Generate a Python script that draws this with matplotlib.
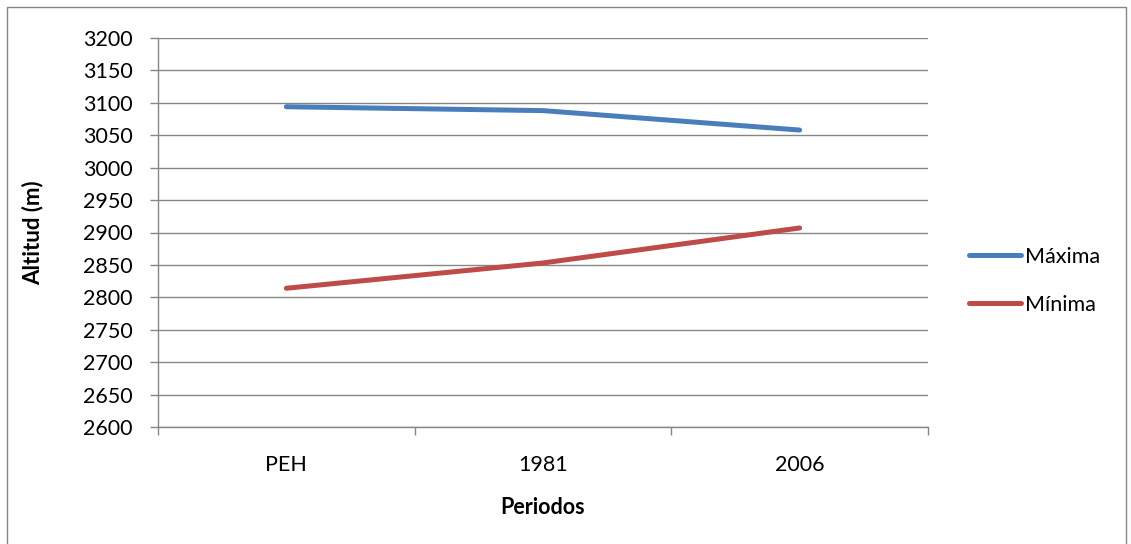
import matplotlib
matplotlib.use("Agg")
import matplotlib.pyplot as plt
from matplotlib.patches import Rectangle
import numpy as np

periodos = ["PEH", "1981", "2006"]
maxima = [3094, 3088, 3058]
minima = [2814, 2853, 2907]

azul = "#4A7EBB"
rojo = "#BE4B48"
gris = "#868686"

plt.rcParams['font.family'] = ['Lato', 'DejaVu Sans']

W, H = 1131, 544
fig = plt.figure(figsize=(W / 100, H / 100), dpi=100)
ax = fig.add_axes([158 / W, 1 - 427 / H, (928 - 158) / W, (427 - 38) / H])

x = np.arange(len(periodos)) + 0.5
ax.plot(x, maxima, color=azul, lw=3.6, solid_capstyle='round', label="Máxima")
ax.plot(x, minima, color=rojo, lw=3.6, solid_capstyle='round', label="Mínima")

ax.set_xlim(0, len(periodos))
ax.set_ylim(2600, 3200)
ax.set_yticks(np.arange(2600, 3201, 50))
ax.set_xticks(x)
ax.set_xticklabels(periodos)
ax.set_xticks(np.arange(0, len(periodos) + 1), minor=True)
ax.tick_params(axis='x', which='major', length=0, pad=20, labelsize=15.5)
ax.tick_params(axis='x', which='minor', length=6, color=gris, width=1)
ax.tick_params(axis='y', length=6, color=gris, width=1, labelsize=15.5, pad=12)

ax.grid(axis='y', color=gris, lw=1)
ax.set_axisbelow(True)
for s in ['top', 'right']:
    ax.spines[s].set_visible(False)
for s in ['left', 'bottom']:
    ax.spines[s].set_color(gris)
    ax.spines[s].set_linewidth(1)

ax.set_ylabel("Altitud (m)", fontsize=16, fontweight='bold')
ax.yaxis.set_label_coords((43 - 158) / 770, 0.5)
ax.set_xlabel("Periodos", fontsize=15.5, fontweight='bold', labelpad=16)

leg = fig.legend(loc='center left', bbox_to_anchor=(950 / W, 1 - 281 / H),
                 frameon=False, fontsize=15.5, handlelength=2.4, handletextpad=0.2,
                 labelspacing=1.3)

fig.patches.append(Rectangle((7 / W, -0.01), (1126 - 7) / W, 1 - 7 / H + 0.01,
                             transform=fig.transFigure, fill=False,
                             edgecolor=gris, lw=1))

fig.savefig("out.png", dpi=100)
